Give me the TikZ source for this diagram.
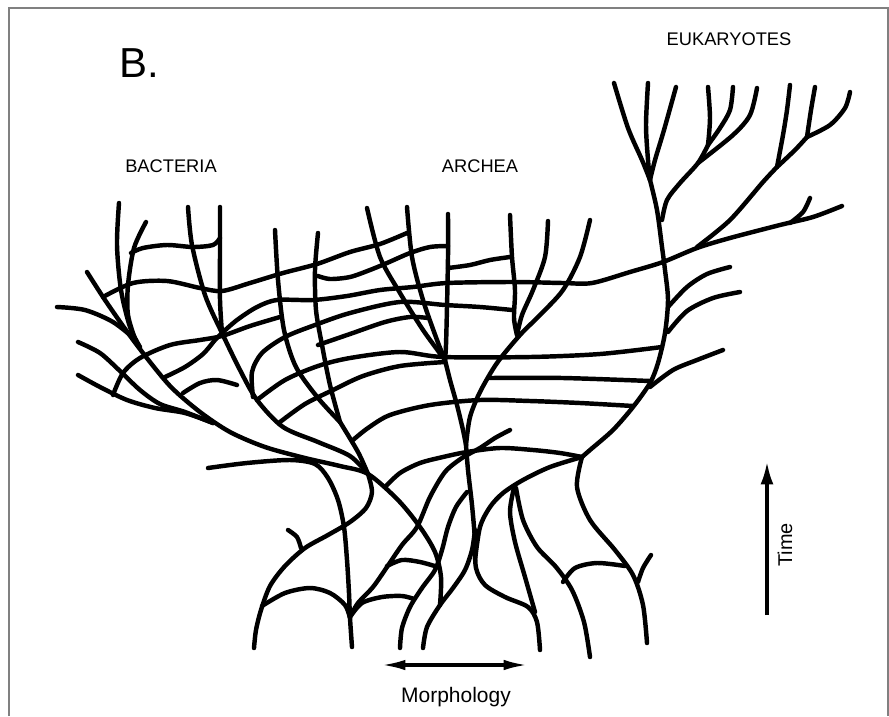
\documentclass[tikz,border=0pt]{standalone}
\usepackage{fontspec}
\setmainfont{Liberation Sans}
\usetikzlibrary{arrows.meta}

\tikzset{
  branch/.style={line width=3.8pt, line cap=round, line join=round},
  axisarrow/.style={line width=2.6pt},
  grouptext/.style={inner sep=0pt, anchor=base, font=\fontsize{15.6}{18}\selectfont},
}

\begin{document}
\begin{tikzpicture}[x=0.03cm, y=-0.03cm]
        \useasboundingbox (0,0) rectangle (889,716);
        % Draw frame
        \draw[gray, line width=1.3pt] (9,716) -- (9,8) -- (888,8) -- (888,716);

        % Draw labels
        \node[inner sep=0pt, anchor=base west, font=\fontsize{35.8}{40}\selectfont] (panel) at (119,77) {B.};
        \node[grouptext] (bacteria) at (171,172) {BACTERIA};
        \node[grouptext] (archea) at (480,172) {ARCHEA};
        \node[grouptext] (eukaryotes) at (729,45) {EUKARYOTES};

        % Draw bacteria stems
        \draw[branch] plot[smooth] coordinates {(119,203) (117,245) (121,290) (130,327) (140,347)};
        \draw[branch] plot[smooth] coordinates {(146,222) (134,248) (128,285) (128,315) (136,342)};
        \draw[branch] plot[smooth] coordinates {(87,272) (105,300) (128,333) (150,362) (172,388) (200,412) (230,432) (265,447) (305,458) (340,466) (368,474) (398,500) (420,527) (435,552) (441,577) (440,605)};
        \draw[branch] plot[smooth] coordinates {(57,307) (85,310) (113,322) (136,340)};
        \draw[branch] plot[smooth] coordinates {(78,342) (100,353) (120,371) (140,390) (160,404) (185,412) (213,423)};
        \draw[branch] plot[smooth] coordinates {(78,375) (100,387) (127,400) (155,408) (185,413) (213,423)};
        \draw[branch] plot[smooth] coordinates {(188,207) (192,245) (205,295) (222,333) (240,370) (257,400) (283,427) (318,442) (350,456) (368,474)};
        \draw[branch] plot[smooth] coordinates {(220,207) (220,250) (220,300) (222,333)};
        \draw[branch] plot[smooth] coordinates {(275,230) (278,280) (284,330) (296,367) (318,398) (340,422)};
        \draw[branch] plot[smooth] coordinates {(318,233) (315,270) (316,310) (322,345) (330,385) (340,422)};
        \draw[branch] plot[smooth] coordinates {(340,422) (358,452) (368,474)};

        % Draw bacteria cross links
        \draw[branch] plot[smooth] coordinates {(131,253) (143,248) (167,245) (193,247) (213,245) (220,238)};
        \draw[branch] plot[smooth] coordinates {(113,395) (123,373) (140,358) (170,345) (200,340) (222,336) (250,326) (280,317)};
        \draw[branch] plot[smooth] coordinates {(165,377) (185,367) (203,354) (215,340) (222,333)};
        \draw[branch] plot[smooth] coordinates {(183,393) (200,383) (217,380) (237,385)};

        % Draw roots
        \draw[branch] plot[smooth] coordinates {(368,474) (372,492) (366,508) (350,522) (328,535) (305,548) (285,566) (270,586) (261,610) (256,630) (254,648)};
        \draw[branch] plot[smooth] coordinates {(288,530) (297,537) (301,548)};
        \draw[branch] plot[smooth] coordinates {(262,606) (285,593) (310,588) (330,593) (345,605) (350,618)};
        \draw[branch] plot[smooth] coordinates {(208,468) (247,463) (290,460) (315,464) (328,478) (338,500) (344,527) (347,560) (349,593) (350,618) (352,647)};
        \draw[branch] plot[smooth] coordinates {(350,617) (362,603) (382,597) (402,596) (414,599)};
        \draw[branch] plot[smooth] coordinates {(400,648) (402,628) (410,607) (422,588) (435,570) (442,550) (448,527) (456,507) (467,492)};
        \draw[branch] plot[smooth] coordinates {(350,617) (358,603) (373,587) (387,567) (402,545) (417,527) (430,497) (445,472) (462,458) (480,448) (495,438) (510,430)};
        \draw[branch] plot[smooth] coordinates {(387,566) (402,560) (420,562) (438,567)};
        \draw[branch] plot[smooth] coordinates {(423,648) (427,627) (440,605) (453,588) (465,570) (472,550) (475,530)};

        % Draw horizontal transfers
        \draw[branch] plot[smooth] coordinates {(103,297) (133,283) (167,281) (200,288) (222,291) (250,283) (283,273) (317,264) (350,252) (380,244) (407,233)};
        \draw[branch] plot[smooth] coordinates {(318,276) (330,279) (350,277) (370,270) (387,263) (410,253) (430,247) (448,246)};
        \draw[branch] plot[smooth] coordinates {(448,268) (470,265) (490,260) (510,257)};
        \draw[branch] plot[smooth] coordinates {(222,333) (237,320) (257,307) (277,300) (313,300) (347,296) (380,290) (413,287) (447,283) (513,282) (563,283) (592,283) (630,272) (663,262) (697,248) (730,238) (780,225) (813,217) (842,206)};
        \draw[branch] plot[smooth] coordinates {(253,397) (252,372) (262,353) (285,337) (315,325) (350,313) (400,302) (445,305) (480,307) (512,310)};
        \draw[branch] plot[smooth] coordinates {(318,345) (350,334) (385,322) (410,317) (428,318)};
        \draw[branch] plot[smooth] coordinates {(257,400) (285,380) (318,366) (350,358) (400,352) (443,357) (530,357) (600,354) (662,347)};
        \draw[branch] plot[smooth] coordinates {(280,422) (305,404) (333,390) (363,376) (400,366) (445,362)};
        \draw[branch] plot[smooth] coordinates {(490,378) (563,378) (650,381)};
        \draw[branch] plot[smooth] coordinates {(353,440) (368,428) (390,415) (430,405) (480,400) (530,401) (580,403) (633,406)};
        \draw[branch] plot[smooth] coordinates {(385,487) (400,473) (420,463) (443,457) (467,452) (500,448) (533,450) (560,453) (582,457)};

        % Draw archea stems
        \draw[branch] plot[smooth] coordinates {(367,208) (380,257) (400,293) (423,330) (445,360)};
        \draw[branch] plot[smooth] coordinates {(407,207) (412,257) (423,300) (437,340) (445,360)};
        \draw[branch] plot[smooth] coordinates {(448,214) (448,257) (447,307) (446,345) (445,360)};
        \draw[branch] plot[smooth] coordinates {(445,360) (450,380) (457,405) (463,430) (466,445)};
        \draw[branch] plot[smooth] coordinates {(510,215) (512,257) (515,290) (514,318) (517,335)};
        \draw[branch] plot[smooth] coordinates {(548,221) (545,257) (533,290) (522,315) (517,335)};
        \draw[branch] plot[smooth] coordinates {(590,220) (580,257) (563,290) (540,315) (520,335) (497,363) (480,392) (470,417) (466,445)};
        \draw[branch] plot[smooth] coordinates {(466,445) (468,470) (472,505) (475,540) (476,568) (485,585) (505,597) (528,607) (537,622) (540,650)};
        \draw[branch] plot[smooth] coordinates {(514,488) (510,512) (515,542) (525,577) (535,612)};
        \draw[branch] plot[smooth] coordinates {(516,488) (523,520) (537,547) (556,567) (572,590) (584,622) (590,657)};
        \draw[branch] plot[smooth] coordinates {(582,457) (550,467) (523,480) (503,493) (490,507) (480,527) (475,560)};

        % Draw eukaryote trunk
        \draw[branch] plot[smooth] coordinates {(582,457) (590,450) (613,430) (633,407) (650,383) (658,363) (665,333) (668,300) (665,270) (662,247) (657,210) (650,180)};
        \draw[branch] plot[smooth] coordinates {(614,83) (628,128) (642,160) (650,180)};
        \draw[branch] plot[smooth] coordinates {(648,83) (646,125) (648,160) (650,180)};
        \draw[branch] plot[smooth] coordinates {(676,87) (664,130) (655,160) (650,180)};
        \draw[branch] plot[smooth] coordinates {(582,457) (577,487) (590,520) (615,550) (633,575) (643,605) (647,643)};
        \draw[branch] plot[smooth] coordinates {(651,555) (643,568) (638,582)};
        \draw[branch] plot[smooth] coordinates {(563,582) (575,568) (597,563) (625,566)};

        % Draw eukaryote crown
        \draw[branch] plot[smooth] coordinates {(662,220) (667,200) (680,183) (698,163) (708,145)};
        \draw[branch] plot[smooth] coordinates {(708,145) (710,118) (708,87)};
        \draw[branch] plot[smooth] coordinates {(708,145) (720,128) (730,110) (733,87)};
        \draw[branch] plot[smooth] coordinates {(698,163) (733,135) (750,115) (757,88)};
        \draw[branch] plot[smooth] coordinates {(697,247) (730,220) (763,182) (777,167)};
        \draw[branch] plot[smooth] coordinates {(777,167) (783,135) (787,110) (790,85)};
        \draw[branch] plot[smooth] coordinates {(777,167) (795,150) (807,137)};
        \draw[branch] plot[smooth] coordinates {(807,137) (811,110) (815,87)};
        \draw[branch] plot[smooth] coordinates {(807,137) (830,125) (845,108) (850,92)};
        \draw[branch] plot[smooth] coordinates {(790,223) (803,212) (810,198)};
        \draw[branch] plot[smooth] coordinates {(668,307) (687,287) (707,274) (730,267)};
        \draw[branch] plot[smooth] coordinates {(668,332) (687,311) (713,298) (740,292)};
        \draw[branch] plot[smooth] coordinates {(650,387) (673,370) (697,360) (723,350)};

        % Draw axes
        \coordinate (timelow) at (767,615);
        \coordinate (timehigh) at (767,462);
        \draw[axisarrow, -{Latex[length=19pt, width=11pt]}] (timelow) -- (timehigh);
        \node[inner sep=0pt, anchor=base, rotate=90, font=\fontsize{17}{20}\selectfont] (time) at (792,545) {Time};
        \coordinate (morphleft) at (382,665);
        \coordinate (morphright) at (527,665);
        \draw[axisarrow, {Latex[length=20pt, width=9pt]}-{Latex[length=20pt, width=9pt]}] (morphleft) -- (morphright);
        \node[inner sep=0pt, anchor=base, font=\fontsize{17.9}{21}\selectfont] (morphology) at (456,702) {Morphology};
\end{tikzpicture}
\end{document}
